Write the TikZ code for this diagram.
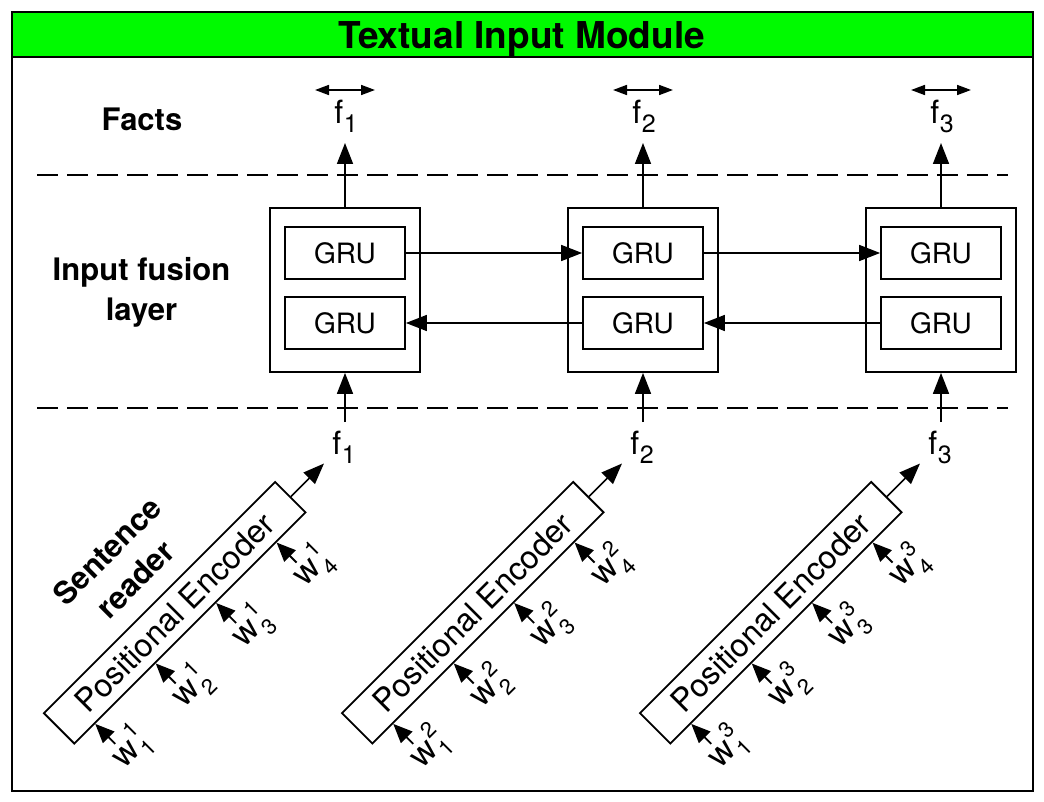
\documentclass[tikz,border=0pt]{standalone}
\usepackage{fontspec}
\setmainfont{TeX Gyre Heros}
\usetikzlibrary{arrows.meta,calc}
\definecolor{hdr}{RGB}{0,250,0}
\newcommand\fsub[1]{f\kern0.5pt\raisebox{-9pt}{\fontsize{25}{25}\selectfont #1}}
\newcommand\wlab[2]{w\kern2pt\rlap{\raisebox{15.5pt}{\fontsize{22}{22}\selectfont #1}}\raisebox{-10pt}{\fontsize{22}{22}\selectfont #2}}
\begin{document}
\begin{tikzpicture}[x=1pt,y=-1pt,
  frame/.style={line width=2.6pt},
  dashline/.style={line width=1.8pt,dash pattern=on 21pt off 9pt},
  arr/.style={line width=1.7pt,-{Triangle[length=21pt,width=16pt]}},
  warr/.style={line width=1.9pt,-{Triangle[length=19pt,width=16pt]}},
  darr/.style={line width=1.7pt,{Triangle[length=14pt,width=10pt]}-{Triangle[length=14pt,width=10pt]}},
  outerbox/.style={draw,line width=1.8pt,minimum width=150pt,minimum height=164pt,inner sep=0pt},
  grubox/.style={draw,line width=1.8pt,minimum width=120pt,minimum height=52pt,inner sep=0pt,font=\fontsize{28}{30}\selectfont},
  pebox/.style={draw,line width=1.8pt,minimum width=327pt,minimum height=43pt,inner sep=0pt,rotate=45,font=\fontsize{32}{34}\selectfont},
  lab/.style={font=\fontsize{31}{40}\selectfont\bfseries,inner sep=0pt},
  flab/.style={font=\fontsize{32}{34}\selectfont,inner sep=0pt},
  wlabel/.style={font=\fontsize{34}{36}\selectfont,inner sep=0pt,rotate=45}
]
\useasboundingbox (0,0) rectangle (1044,802);
% frame and header
\fill[hdr] (12,12) rectangle (1033,57);
\draw[frame] (12,12) rectangle (1033,791);
\draw[frame] (12,57) -- (1033,57);
\node[font=\fontsize{37}{40}\selectfont\bfseries,anchor=base,inner sep=0pt] (title) at (521.5,49) {Textual Input Module};
% dashed separators
\coordinate (d1a) at (37,175); \coordinate (d1b) at (1008,175);
\coordinate (d2a) at (37,408); \coordinate (d2b) at (1008,408);
\draw[dashline] (d1a) -- (d1b);
\draw[dashline] (d2a) -- (d2b);
% row labels
\node[lab,anchor=base] (facts) at (142,131) {Facts};
\node[lab,align=center] (ifl) at (141.5,292) {Input fusion\\layer};
\node[lab,align=center,rotate=45] (sr) at (121,565) {Sentence\\reader};
% columns
\foreach \i/\x in {1/345,2/643,3/941}{
  \node[outerbox] (b\i) at (\x,290) {};
  \node[grubox] (gt\i) at (\x,253) {GRU};
  \node[grubox] (gb\i) at (\x,323) {GRU};
  \node[flab] (ft\i) at (\x+1,116) {\fsub{\i}};
  \coordinate (ftip\i) at (\x,143);
  \draw[arr] (b\i.north) -- (ftip\i);
  \coordinate (dl\i) at (\x-30,90);
  \coordinate (dr\i) at (\x+30,90);
  \draw[darr] (dl\i) -- (dr\i);
  \node[flab] (fb\i) at (\x-1,447) {\fsub{\i}};
  \coordinate (fbt\i) at (\x,422);
  \draw[arr] (fbt\i) -- (b\i.south);
}
\draw[arr] (gt1.east) -- (gt2.west);
\draw[arr] (gt2.east) -- (gt3.west);
\draw[arr] (gb3.west) -- (gb2.east);
\draw[arr] (gb2.west) -- (gb1.east);
% sentence readers
\foreach \i/\x in {1/174.75,2/472.75,3/770.75}{
  \node[pebox] (pe\i) at (\x,612.75) {Positional Encoder};
  \coordinate (po\i) at ($(pe\i.east)+(33,-33)$);
  \draw[arr] (pe\i.east) -- (po\i);
  \foreach \k/\t in {1/0.09,2/0.35,3/0.61,4/0.87}{
    \coordinate (wt\i\k) at ($(pe\i.south west)!\t!(pe\i.south east)$);
    \coordinate (ws\i\k) at ($(wt\i\k)+(20,20)$);
    \draw[warr] (ws\i\k) -- (wt\i\k);
    \node[wlabel] (w\i\k) at ($(wt\i\k)+(35,24)$) {\wlab{\i}{\k}};
  }
}
\end{tikzpicture}
\end{document}
